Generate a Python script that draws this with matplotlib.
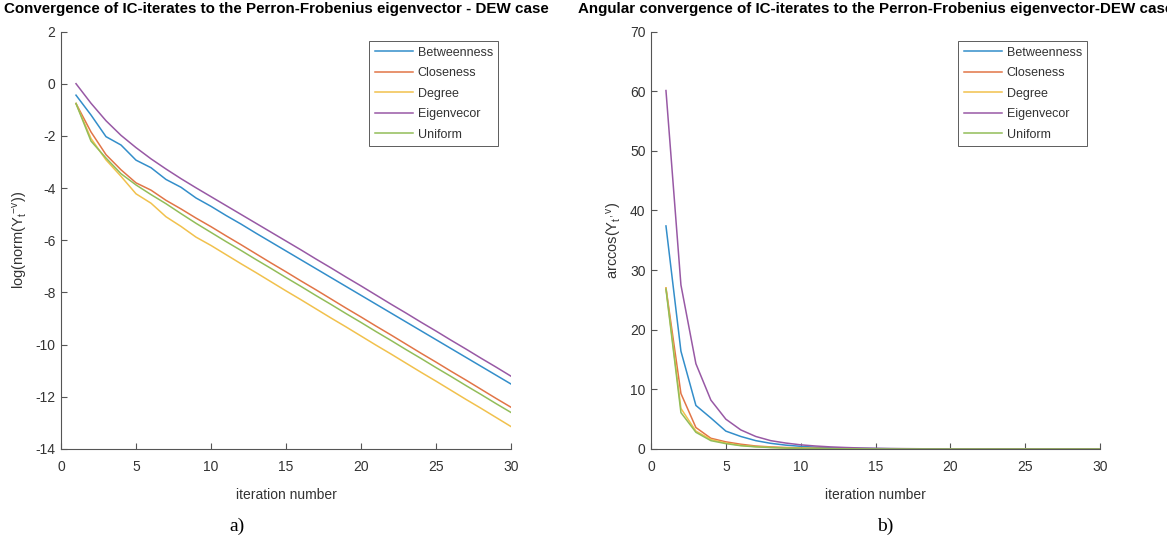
import matplotlib
matplotlib.use('Agg')
import matplotlib.pyplot as plt

plt.rcParams['font.family'] = ['Liberation Sans', 'DejaVu Sans']
plt.rcParams['mathtext.fontset'] = 'custom'
plt.rcParams['mathtext.rm'] = 'Liberation Sans'
plt.rcParams['mathtext.it'] = 'Liberation Sans'
plt.rcParams['mathtext.default'] = 'regular'
plt.rcParams['axes.unicode_minus'] = False

iterations = list(range(1, 31))
labels = ['Betweenness', 'Closeness', 'Degree', 'Eigenvecor', 'Uniform']
colors = ['#338ECA', '#E17547', '#F1C14D', '#9859A5', '#92BD59']

# Left panel: log(norm(Y_t - v))
log_betweenness = [-0.44, -1.20, -2.03, -2.35, -2.93, -3.22, -3.67, -3.97, -4.38, -4.70,
                   -5.05, -5.38, -5.73, -6.07, -6.41, -6.75, -7.09, -7.43, -7.77, -8.11,
                   -8.45, -8.79, -9.13, -9.47, -9.81, -10.15, -10.49, -10.83, -11.17, -11.51]
log_closeness = [-0.76, -1.85, -2.72, -3.30, -3.80, -4.08, -4.47, -4.80, -5.15, -5.48,
                 -5.83, -6.17, -6.52, -6.87, -7.21, -7.56, -7.90, -8.25, -8.60, -8.94,
                 -9.29, -9.63, -9.98, -10.33, -10.67, -11.02, -11.36, -11.71, -12.06, -12.40]
log_degree = [-0.76, -2.10, -2.92, -3.55, -4.22, -4.58, -5.10, -5.47, -5.88, -6.20,
              -6.55, -6.90, -7.24, -7.59, -7.94, -8.28, -8.63, -8.98, -9.32, -9.67,
              -10.02, -10.36, -10.71, -11.06, -11.40, -11.75, -12.10, -12.44, -12.79, -13.14]
log_eigen = [0.00, -0.75, -1.42, -1.98, -2.45, -2.88, -3.27, -3.64, -3.99, -4.33,
             -4.67, -5.01, -5.35, -5.69, -6.03, -6.37, -6.72, -7.06, -7.41, -7.75,
             -8.10, -8.45, -8.79, -9.14, -9.48, -9.83, -10.17, -10.52, -10.86, -11.21]
log_uniform = [-0.76, -2.20, -2.85, -3.45, -3.88, -4.25, -4.60, -4.98, -5.35, -5.70,
               -6.05, -6.39, -6.74, -7.08, -7.43, -7.77, -8.12, -8.46, -8.81, -9.15,
               -9.50, -9.84, -10.19, -10.53, -10.88, -11.22, -11.57, -11.91, -12.26, -12.60]

# Right panel: arccos(Y_t, v)
ang_betweenness = [37.4, 16.4, 7.3, 5.2, 3.0, 2.1, 1.4, 0.95, 0.65, 0.45,
                   0.30, 0.20, 0.14, 0.10, 0.07, 0.05, 0.035, 0.025, 0.018, 0.013,
                   0.009, 0.006, 0.004, 0.003, 0.002, 0.0015, 0.001, 0.0007, 0.0005, 0.0003]
ang_closeness = [27.0, 9.3, 3.6, 1.8, 1.2, 0.8, 0.5, 0.35, 0.25, 0.17,
                 0.12, 0.08, 0.06, 0.04, 0.03, 0.02, 0.014, 0.01, 0.007, 0.005,
                 0.0035, 0.0025, 0.0018, 0.0012, 0.0008, 0.0006, 0.0004, 0.0003, 0.0002, 0.0001]
ang_degree = [27.0, 6.8, 3.0, 1.6, 1.0, 0.6, 0.4, 0.27, 0.18, 0.12,
              0.08, 0.055, 0.04, 0.027, 0.018, 0.012, 0.008, 0.006, 0.004, 0.003,
              0.002, 0.0014, 0.001, 0.0007, 0.0005, 0.0003, 0.0002, 0.00015, 0.0001, 0.00007]
ang_eigen = [60.1, 27.5, 14.3, 8.2, 5.0, 3.2, 2.1, 1.4, 1.0, 0.7,
             0.5, 0.35, 0.25, 0.17, 0.12, 0.08, 0.06, 0.04, 0.03, 0.02,
             0.014, 0.01, 0.007, 0.005, 0.0035, 0.0025, 0.0018, 0.0012, 0.0008, 0.0006]
ang_uniform = [26.8, 6.1, 2.8, 1.4, 0.9, 0.55, 0.36, 0.24, 0.16, 0.11,
               0.075, 0.05, 0.035, 0.024, 0.016, 0.011, 0.008, 0.005, 0.0035, 0.0025,
               0.0017, 0.0012, 0.0008, 0.0006, 0.0004, 0.0003, 0.0002, 0.00013, 0.0001, 0.00006]

log_series = [log_betweenness, log_closeness, log_degree, log_eigen, log_uniform]
ang_series = [ang_betweenness, ang_closeness, ang_degree, ang_eigen, ang_uniform]

W, H = 1167, 539
fig = plt.figure(figsize=(W / 100, H / 100), dpi=100)

def px_axes(x0, x1, y0, y1):
    return fig.add_axes([x0 / W, 1 - y1 / H, (x1 - x0) / W, (y1 - y0) / H])

axL = px_axes(61, 511, 31.5, 449)
axR = px_axes(651, 1100, 31.5, 449)

text_col = '#333333'
spine_col = '#555555'

def style(ax):
    for s in ['top', 'right']:
        ax.spines[s].set_visible(False)
    for s in ['left', 'bottom']:
        ax.spines[s].set_color(spine_col)
        ax.spines[s].set_linewidth(0.8)
    ax.tick_params(direction='in', length=4, width=0.8, color=spine_col,
                   labelsize=10, labelcolor=text_col)
    ax.tick_params(axis='x', pad=8)
    ax.tick_params(axis='y', pad=4)
    ax.set_xlim(0, 30)
    ax.set_xticks(range(0, 31, 5))
    ax.set_xlabel('iteration number', fontsize=10, color=text_col, labelpad=10)

for ys, c, lab in zip(log_series, colors, labels):
    axL.plot(iterations, ys, color=c, lw=1.1, label=lab)
axL.set_ylim(-14, 2)
axL.set_yticks(range(-14, 3, 2))
style(axL)
axL.set_ylabel(r'log(norm(Y$_{t}$$^{-v}$))', fontsize=10.5, color=text_col, labelpad=4)

for ys, c, lab in zip(ang_series, colors, labels):
    axR.plot(iterations, ys, color=c, lw=1.1, label=lab)
axR.set_ylim(0, 70)
axR.set_yticks(range(0, 71, 10))
style(axR)
axR.set_ylabel(r'arccos(Y$_{t}$$^{,v}$)', fontsize=10.5, color=text_col, labelpad=4)

for ax in (axL, axR):
    leg = ax.legend(loc='upper right', bbox_to_anchor=(0.972, 0.977), borderaxespad=0,
                    fontsize=9, frameon=True, fancybox=False, handlelength=3.0,
                    handletextpad=0.4, labelspacing=0.68, borderpad=0.45)
    leg.get_frame().set_edgecolor('#333333')
    leg.get_frame().set_linewidth(0.7)
    for t in leg.get_texts():
        t.set_color(text_col)

fig.text(4 / W, 1 - 9 / H,
         'Convergence of IC-iterates to the Perron-Frobenius eigenvector - DEW case',
         ha='left', va='center', fontsize=10.9, fontweight='bold', color='black')
fig.text(578 / W, 1 - 9 / H,
         'Angular convergence of IC-iterates to the Perron-Frobenius eigenvector-DEW case',
         ha='left', va='center', fontsize=10.9, fontweight='bold', color='black')

fig.text(237 / W, 1 - 526 / H, 'a)', ha='center', va='center', fontsize=14,
         family=['Liberation Serif', 'DejaVu Serif'], color='black')
fig.text(885 / W, 1 - 526 / H, 'b)', ha='center', va='center', fontsize=14,
         family=['Liberation Serif', 'DejaVu Serif'], color='black')

fig.savefig('out.png', dpi=100)
